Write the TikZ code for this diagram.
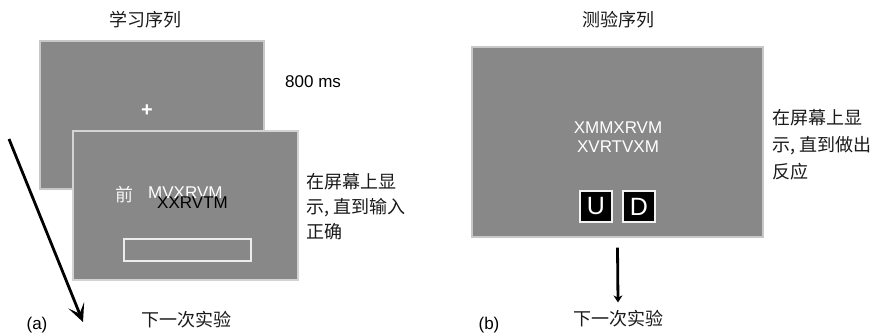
\documentclass[tikz,border=0pt]{standalone}
\usepackage{fontspec}
\setmainfont{Liberation Sans}
\newfontfamily\cjk{Noto Sans CJK SC}
\usetikzlibrary{arrows.meta}
\definecolor{screen}{HTML}{888888}
\definecolor{edge}{HTML}{C8C8C8}
\definecolor{txt}{HTML}{1A1A1A}
\tikzset{
  scr/.style={fill=screen, draw=edge, line width=1.2pt, inner sep=0pt},
  cn/.style={font=\cjk\fontsize{18}{25}\selectfont, text=txt, inner sep=0pt},
  lat/.style={font=\fontsize{17}{19}\selectfont, inner sep=0pt},
  keybox/.style={fill=black, draw=white!90!gray, line width=1.8pt, minimum width=32pt, minimum height=31pt, inner sep=0pt, text=white, font=\fontsize{25}{25}\selectfont},
  flow/.style={line width=2.8pt, black}
}
\begin{document}
\begin{tikzpicture}[x=1pt,y=-1pt]
\useasboundingbox[fill=white] (0,0) rectangle (872,336);
% (a) study sequence
\node[cn] (ta) at (145,20) {学习序列};
\node[scr, minimum width=224pt, minimum height=148pt] (back) at (152,115) {};
\node[text=white, font=\bfseries\fontsize{20}{20}\selectfont, inner sep=0pt] (plus) at (147,111) {+};
\node[lat, anchor=west] (ms) at (285,82) {800 ms};
\node[scr, draw=edge!80!white, line width=1.6pt, minimum width=225pt, minimum height=149pt] (front) at (185.5,205.5) {};
\node[fill=screen, draw=white!85!gray, line width=2pt, minimum width=127pt, minimum height=22pt, inner sep=0pt] (input) at (187,250.5) {};
\node[cn, text=white!92!gray, anchor=center] (qian) at (124,195) {前};
\node[lat, text=white, anchor=west] (w1) at (148,193) {MVXRVM};
\node[lat, text=black, anchor=west] (w2) at (157,203) {XXRVTM};
\node[cn, align=left, anchor=west] (da) at (306,207) {在屏幕上显\\示, 直到输入\\正确};
\node[cn] (na) at (186,320) {下一次实验};
\node[lat, anchor=center] (la) at (37,325) {(a)};
\coordinate (as) at (9,139);
\coordinate (ae) at (83,322);
\draw[flow, -{Stealth[length=18pt,width=17pt,inset=9pt]}] (as) -- (ae);
% (b) test sequence
\node[cn] (tb) at (618,20) {测验序列};
\node[scr, minimum width=291pt, minimum height=190pt] (test) at (617.5,142) {};
\node[lat, text=white, align=center] (pair) at (618,137.5) {XMMXRVM\\XVRTVXM};
\node[keybox] (u) at (596,206.5) {U};
\node[keybox] (d) at (639,206.5) {D};
\node[cn, align=left, anchor=west, font=\cjk\fontsize{18}{27}\selectfont] (db) at (772,145) {在屏幕上显\\示, 直到做出\\反应};
\node[cn] (nb) at (618,319) {下一次实验};
\node[lat] (lb) at (489,325) {(b)};
\draw[flow, -{Stealth[length=7pt,width=9pt]}] ([yshift=-10pt]test.south) -- ([yshift=8pt]nb.north);
\end{tikzpicture}
\end{document}
